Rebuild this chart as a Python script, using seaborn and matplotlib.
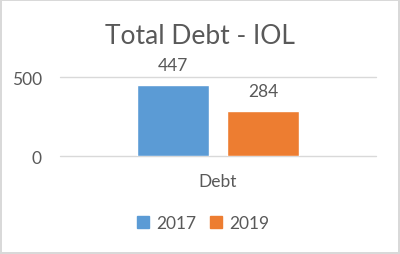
import matplotlib
matplotlib.use("Agg")
import matplotlib.pyplot as plt
import seaborn as sns
import pandas as pd

categories = ["Debt"]
years = ["2017", "2019"]
values_2017 = [447]
values_2019 = [284]
colors = ["#5B9BD5", "#ED7D31"]
title = "Total Debt - IOL"

rows = []
for c, v in zip(categories, values_2017):
    rows.append({"cat": c, "year": years[0], "value": v})
for c, v in zip(categories, values_2019):
    rows.append({"cat": c, "year": years[1], "value": v})
df = pd.DataFrame(rows)

sns.set_style("white")
plt.rcParams["font.family"] = ["Lato", "DejaVu Sans"]
txt = "#595959"

fig = plt.figure(figsize=(4.0, 2.55), dpi=100)
fig.patch.set_facecolor("white")
fig.patch.set_edgecolor("#D9D9D9")
fig.patch.set_linewidth(1.5)

ax = fig.add_axes([0.15, 0.3843, 0.79, 0.3098])
sns.barplot(data=df, x="cat", y="value", hue="year", palette=colors,
            width=0.57, gap=0.21, ax=ax, legend=False, saturation=1)
ax.set_xlim(-0.5, 0.5)
ax.set_ylim(0, 500)
ax.set_yticks([0, 500])
ax.yaxis.grid(True, color="#D9D9D9", linewidth=1)
ax.set_axisbelow(True)
for s in ax.spines.values():
    s.set_visible(False)
ax.tick_params(axis="y", length=0, pad=13, labelsize=12.5, labelcolor=txt)
ax.tick_params(axis="x", length=0, pad=12, labelsize=12.5, labelcolor=txt)
ax.set_xlabel("")
ax.set_ylabel("")
for gl in ax.get_ygridlines():
    gl.set_clip_on(False)

for cont in ax.containers:
    ax.bar_label(cont, padding=9, fontsize=12.5, color=txt, clip_on=False)

fig.text(0.5, 1 - 37 / 255, title, ha="center", va="center", fontsize=19, color=txt)

handles = [plt.Rectangle((0, 0), 1, 1, color=c) for c in colors]
fig.legend(handles, years, loc="center", bbox_to_anchor=(0.508, 1 - 224 / 255),
           ncol=2, frameon=False, fontsize=12.5, labelcolor=txt,
           handlelength=0.7, handleheight=0.7, handletextpad=0.4, columnspacing=0.8)

fig.savefig("out.png", dpi=100, facecolor=fig.get_facecolor(), edgecolor=fig.get_edgecolor())
